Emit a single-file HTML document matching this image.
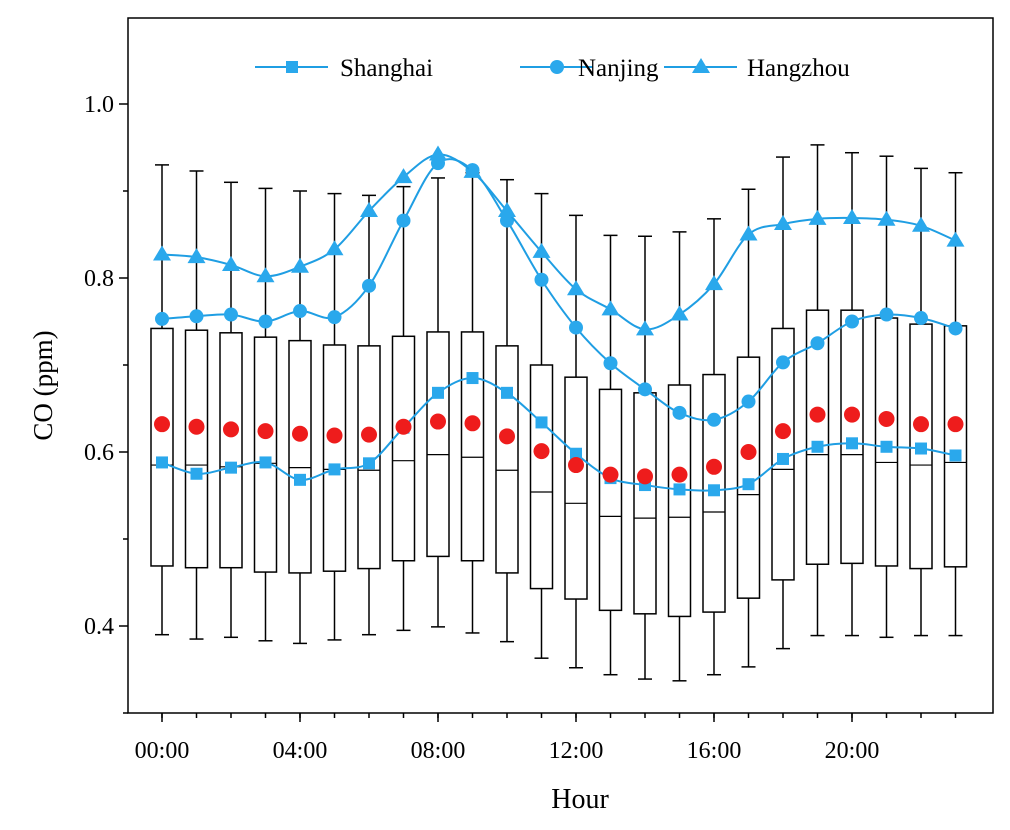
<!DOCTYPE html>
<html><head><meta charset="utf-8"><style>
body{margin:0;background:#fff}
svg text{font-family:"Liberation Serif",serif;fill:#000}
</style></head><body>
<svg id="chart" width="1010" height="825"></svg>
<script>
const hours=[0,1,2,3,4,5,6,7,8,9,10,11,12,13,14,15,16,17,18,19,20,21,22,23];
const whiskHi=[0.930,0.923,0.910,0.903,0.900,0.897,0.895,0.905,0.915,0.921,0.913,0.897,0.872,0.849,0.848,0.853,0.868,0.902,0.939,0.953,0.944,0.940,0.926,0.921];
const q3=[0.742,0.740,0.737,0.732,0.728,0.723,0.722,0.733,0.738,0.738,0.722,0.700,0.686,0.672,0.668,0.677,0.689,0.709,0.742,0.763,0.763,0.754,0.747,0.745];
const med=[0.585,0.585,0.583,0.587,0.582,0.580,0.579,0.590,0.597,0.594,0.579,0.554,0.541,0.526,0.524,0.525,0.531,0.551,0.580,0.597,0.597,0.588,0.585,0.588];
const q1=[0.469,0.467,0.467,0.462,0.461,0.463,0.466,0.475,0.480,0.475,0.461,0.443,0.431,0.418,0.414,0.411,0.416,0.432,0.453,0.471,0.472,0.469,0.466,0.468];
const whiskLo=[0.390,0.385,0.387,0.383,0.380,0.384,0.390,0.395,0.399,0.392,0.382,0.363,0.352,0.344,0.339,0.337,0.344,0.353,0.374,0.389,0.389,0.387,0.389,0.389];
const means=[0.632,0.629,0.626,0.624,0.621,0.619,0.620,0.629,0.635,0.633,0.618,0.601,0.585,0.574,0.572,0.574,0.583,0.600,0.624,0.643,0.643,0.638,0.632,0.632];
const shanghai=[0.588,0.575,0.582,0.588,0.568,0.580,0.587,0.628,0.668,0.685,0.668,0.634,0.598,0.570,0.562,0.557,0.556,0.563,0.592,0.606,0.610,0.606,0.604,0.596];
const nanjing=[0.753,0.756,0.758,0.750,0.762,0.755,0.791,0.866,0.932,0.924,0.866,0.798,0.743,0.702,0.672,0.645,0.637,0.658,0.703,0.725,0.750,0.758,0.754,0.742];
const hangzhou=[0.827,0.824,0.815,0.802,0.813,0.833,0.877,0.916,0.942,0.922,0.877,0.830,0.787,0.764,0.741,0.758,0.793,0.850,0.862,0.868,0.869,0.867,0.860,0.843];
const yTicks=[0.4,0.6,0.8,1.0];
const yMinor=[0.3,0.5,0.7,0.9];
const xTickHours=[0,4,8,12,16,20];
const xTickLabels=["00:00","04:00","08:00","12:00","16:00","20:00"];

const L=128,R=993,T=18,B=713;
const x=h=>162+h*34.5;
const y=v=>B-(v-0.3)*870;
const svg=document.getElementById('chart');
const NS='http://www.w3.org/2000/svg';
function mk(tag,attrs,parent){const e=document.createElementNS(NS,tag);for(const k in attrs)e.setAttribute(k,attrs[k]);(parent||svg).appendChild(e);return e;}
const BLUE='#1f9ee3', MFILL='#2aa8ec';

let frame=mk('rect',{x:L,y:T,width:R-L,height:B-T,fill:'none',stroke:'#000','stroke-width':1.5});



yTicks.forEach(v=>{
  let t=mk('line',{x1:L-9,x2:L,y1:y(v),y2:y(v),stroke:'#000','stroke-width':1.5});
  
  
  let lb=mk('text',{x:L-14,y:y(v)+8,'text-anchor':'end','font-size':24});
  lb.textContent=v.toFixed(1);
  
  
});
yMinor.forEach(v=>{
  let t=mk('line',{x1:L-5,x2:L,y1:y(v),y2:y(v),stroke:'#000','stroke-width':1.5});
  
  
});
hours.forEach(h=>{
  let t=mk('line',{x1:x(h),x2:x(h),y1:B,y2:B+5,stroke:'#000','stroke-width':1.5});
  
  
});
xTickHours.forEach((h,i)=>{
  let t=mk('line',{x1:x(h),x2:x(h),y1:B,y2:B+9,stroke:'#000','stroke-width':1.5});
  
  
  let lb=mk('text',{x:x(h),y:B+45,'text-anchor':'middle','font-size':24});
  lb.textContent=xTickLabels[i];
  
  
});

let yt=mk('text',{x:52,y:(T+B)/2+20,'text-anchor':'middle','font-size':27,transform:`rotate(-90 52 ${(T+B)/2+20})`});
yt.textContent='CO (ppm)';


let xt=mk('text',{x:580,y:808,'text-anchor':'middle','font-size':28});
xt.textContent='Hour';



hours.forEach((h,i)=>{
  const g=mk('g',{});
  
  
  const cx=x(h),w=11,cw=7;
  mk('line',{x1:cx,x2:cx,y1:y(whiskHi[i]),y2:y(q3[i]),stroke:'#000','stroke-width':1.5},g);
  mk('line',{x1:cx,x2:cx,y1:y(q1[i]),y2:y(whiskLo[i]),stroke:'#000','stroke-width':1.5},g);
  mk('line',{x1:cx-cw,x2:cx+cw,y1:y(whiskHi[i]),y2:y(whiskHi[i]),stroke:'#000','stroke-width':1.5},g);
  mk('line',{x1:cx-cw,x2:cx+cw,y1:y(whiskLo[i]),y2:y(whiskLo[i]),stroke:'#000','stroke-width':1.5},g);
  mk('rect',{x:cx-w,y:y(q3[i]),width:2*w,height:y(q1[i])-y(q3[i]),fill:'none',stroke:'#000','stroke-width':1.5},g);
  mk('line',{x1:cx-w,x2:cx+w,y1:y(med[i]),y2:y(med[i]),stroke:'#000','stroke-width':1.2},g);
});

function smooth(vals){
  const p=vals.map((v,i)=>[x(hours[i]),y(v)]);
  let d=`M${p[0][0]},${p[0][1]}`;
  for(let i=0;i<p.length-1;i++){
    const p0=p[Math.max(i-1,0)],p1=p[i],p2=p[i+1],p3=p[Math.min(i+2,p.length-1)];
    d+=` C${p1[0]+(p2[0]-p0[0])/6},${p1[1]+(p2[1]-p0[1])/6} ${p2[0]-(p3[0]-p1[0])/6},${p2[1]-(p3[1]-p1[1])/6} ${p2[0]},${p2[1]}`;
  }
  return d;
}
function marker(type,cx,cy,g){
  if(type==='sq')return mk('rect',{x:cx-6,y:cy-6,width:12,height:12,fill:MFILL},g);
  if(type==='ci')return mk('circle',{cx:cx,cy:cy,r:7,fill:MFILL},g);
  return mk('polygon',{points:`${cx},${cy-9} ${cx+9},${cy+6} ${cx-9},${cy+6}`,fill:MFILL},g);
}
[['shanghai',shanghai,'sq'],['nanjing',nanjing,'ci'],['hangzhou',hangzhou,'tr']].forEach(([n,vals,m])=>{
  const g=mk('g',{});
  
  
  mk('path',{d:smooth(vals),fill:'none',stroke:BLUE,'stroke-width':2},g);
  vals.forEach((v,i)=>marker(m,x(hours[i]),y(v),g));
});
means.forEach((v,i)=>{
  let c=mk('circle',{cx:x(hours[i]),cy:y(v),r:8,fill:'#ee1c1c'});
  
  
});

const lg=mk('g',{});


[[255,'sq','Shanghai',340],[520,'ci','Nanjing',578],[664,'tr','Hangzhou',747]].forEach(([x0,m,label,tx])=>{
  const e=mk('g',{},lg);
  
  
  mk('line',{x1:x0,x2:x0+73,y1:67,y2:67,stroke:BLUE,'stroke-width':2},e);
  marker(m,x0+37,67,e);
  const t=mk('text',{x:tx,y:76,'font-size':25},e);
  t.textContent=label;
});
</script>
</body></html>
